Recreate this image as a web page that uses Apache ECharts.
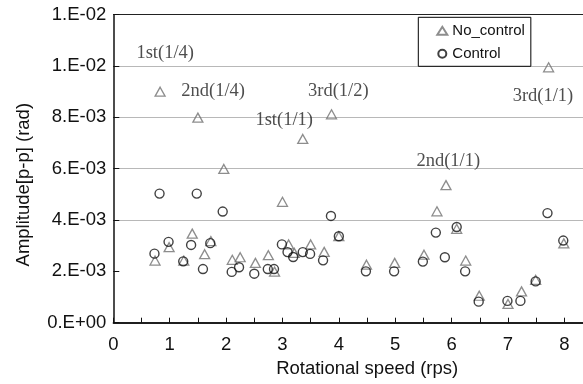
<!DOCTYPE html>
<html>
<head>
<meta charset="utf-8">
<script src="https://cdn.jsdelivr.net/npm/echarts@6.0.0/dist/echarts.min.js"></script>
<style>
  html, body { margin: 0; padding: 0; background: #fff; }
  #chart { width: 583px; height: 384px; }
</style>
</head>
<body>
<div id="chart"></div>
<script>
// rotational speed (rps) and amplitude (rad)
var noControlSpeed = [0.74, 0.83, 0.99, 1.25, 1.40, 1.50, 1.62, 1.73, 1.96, 2.11, 2.25, 2.52, 2.75, 2.86, 3.00, 3.11, 3.21, 3.36, 3.50, 3.74, 3.87, 4.00, 4.49, 4.99, 5.51, 5.74, 5.90, 6.09, 6.25, 6.49, 7.00, 7.24, 7.49, 7.72, 7.99]
var noControlAmp = [2.42e-3, 9.00e-3, 2.94e-3, 2.42e-3, 3.47e-3, 7.99e-3, 2.67e-3, 3.18e-3, 5.99e-3, 2.45e-3, 2.55e-3, 2.33e-3, 2.63e-3, 1.99e-3, 4.71e-3, 3.05e-3, 2.72e-3, 7.16e-3, 3.05e-3, 2.76e-3, 8.12e-3, 3.37e-3, 2.26e-3, 2.33e-3, 2.65e-3, 4.34e-3, 5.36e-3, 3.66e-3, 2.42e-3, 1.05e-3, 0.73e-3, 1.22e-3, 1.67e-3, 9.95e-3, 3.09e-3]
var controlSpeed = [0.73, 0.82, 0.98, 1.24, 1.38, 1.48, 1.59, 1.72, 1.94, 2.10, 2.23, 2.50, 2.74, 2.85, 2.99, 3.09, 3.19, 3.36, 3.49, 3.72, 3.86, 4.00, 4.48, 4.98, 5.49, 5.72, 5.88, 6.09, 6.24, 6.48, 6.99, 7.22, 7.49, 7.70, 7.98]
var controlAmp = [2.69e-3, 5.03e-3, 3.15e-3, 2.39e-3, 3.03e-3, 5.03e-3, 2.09e-3, 3.10e-3, 4.33e-3, 1.98e-3, 2.16e-3, 1.91e-3, 2.09e-3, 2.09e-3, 3.05e-3, 2.75e-3, 2.56e-3, 2.75e-3, 2.68e-3, 2.43e-3, 4.16e-3, 3.37e-3, 2.00e-3, 2.00e-3, 2.38e-3, 3.51e-3, 2.55e-3, 3.73e-3, 2.00e-3, 0.82e-3, 0.85e-3, 0.85e-3, 1.61e-3, 4.27e-3, 3.20e-3]

// mode labels, placed in data units
var noteText = ['1st(1/4)', '2nd(1/4)', '1st(1/1)', '3rd(1/2)', '2nd(1/1)', '3rd(1/1)']
var noteSpeed = [0.92, 1.77, 3.03, 3.99, 5.94, 7.62]
var noteAmp = [10.5e-3, 9.02e-3, 7.91e-3, 9.02e-3, 6.29e-3, 8.82e-3]

var refLevel = 2e-3

const pairs = (xs, ys) => xs.map((x, i) => [x, ys[i]])
const sciLabel = (v) => {
  var s = Number(v).toExponential(0).split('e')
  var e = parseInt(s[1], 10)
  return s[0] + '.E' + (e < 0 ? '-' : '+') + String(Math.abs(e)).padStart(2, '0')
}

var myChart = echarts.init(document.getElementById('chart'))
var option = {
  animation: false,
  grid: { left: 113.3, right: 0, top: 14.7, bottom: 61.3 },
  legend: {
    data: ['No_control', 'Control'],
    orient: 'vertical',
    left: 418.3,
    top: 17.3,
    padding: [6, 6, 5, 18],
    itemGap: 8,
    itemWidth: 10,
    itemHeight: 8,
    itemTextGap: 4,
    borderColor: '#000',
    borderWidth: 1,
    backgroundColor: '#fff',
    textStyle: { fontFamily: 'Liberation Sans', fontSize: 15, color: '#111' }
  },
  xAxis: {
    type: 'value',
    min: 0,
    max: 8.33,
    interval: 0.5,
    name: 'Rotational speed (rps)',
    nameLocation: 'middle',
    nameGap: 36,
    nameTextStyle: { fontFamily: 'Liberation Sans', fontSize: 18.5, color: '#111', padding: [0, 0, 0, 38] },
    axisLine: { lineStyle: { color: '#111', width: 1.5 } },
    axisTick: { inside: true, length: 5, lineStyle: { color: '#111' } },
    axisLabel: {
      showMaxLabel: false,
      margin: 13,
      fontFamily: 'Liberation Sans',
      fontSize: 18.5,
      color: '#111',
      formatter: (v) => (Math.abs(v - Math.round(v)) < 1e-6 ? String(Math.round(v)) : '')
    },
    splitLine: { show: false }
  },
  yAxis: {
    type: 'value',
    min: 0,
    max: 0.012,
    interval: 0.002,
    name: 'Amplitude[p-p] (rad)',
    nameLocation: 'middle',
    nameGap: 80,
    nameTextStyle: { fontFamily: 'Liberation Sans', fontSize: 18.5, color: '#111', padding: [0, 32, 0, 0] },
    axisLine: { show: true, lineStyle: { color: '#111', width: 1.5 } },
    axisTick: { show: true, inside: true, length: 6, lineStyle: { color: '#111' } },
    axisLabel: { margin: 7, fontFamily: 'Liberation Sans', fontSize: 18.5, color: '#111', formatter: sciLabel },
    splitLine: {
      show: true,
      lineStyle: { color: ['transparent', 'transparent', '#b8b8b8', '#b8b8b8', '#b8b8b8', '#b8b8b8', '#222'], width: 1 }
    }
  },
  series: [
    {
      name: 'No_control',
      type: 'scatter',
      symbol: 'triangle',
      symbolSize: [10, 9],
      itemStyle: { color: 'transparent', borderColor: '#707070', borderWidth: 1.3 },
      data: pairs(noControlSpeed, noControlAmp),
      markLine: {
        silent: true,
        symbol: 'none',
        label: { show: false },
        lineStyle: { color: '#111', type: 'solid', width: 1.6 },
        data: [{ yAxis: refLevel }]
      }
    },
    {
      name: 'Control',
      type: 'scatter',
      symbol: 'circle',
      symbolSize: 9,
      itemStyle: { color: 'transparent', borderColor: '#111', borderWidth: 1.4 },
      data: pairs(controlSpeed, controlAmp)
    },
    {
      name: 'notes',
      type: 'scatter',
      silent: true,
      symbolSize: 1,
      itemStyle: { color: 'transparent' },
      label: {
        show: true,
        position: 'inside',
        formatter: (p) => p.name,
        fontFamily: 'Liberation Serif',
        fontSize: 18.5,
        color: '#222'
      },
      data: noteText.map((t, i) => ({ name: t, value: [noteSpeed[i], noteAmp[i]] }))
    }
  ]
}
option && myChart.setOption(option)
</script>
</body>
</html>
